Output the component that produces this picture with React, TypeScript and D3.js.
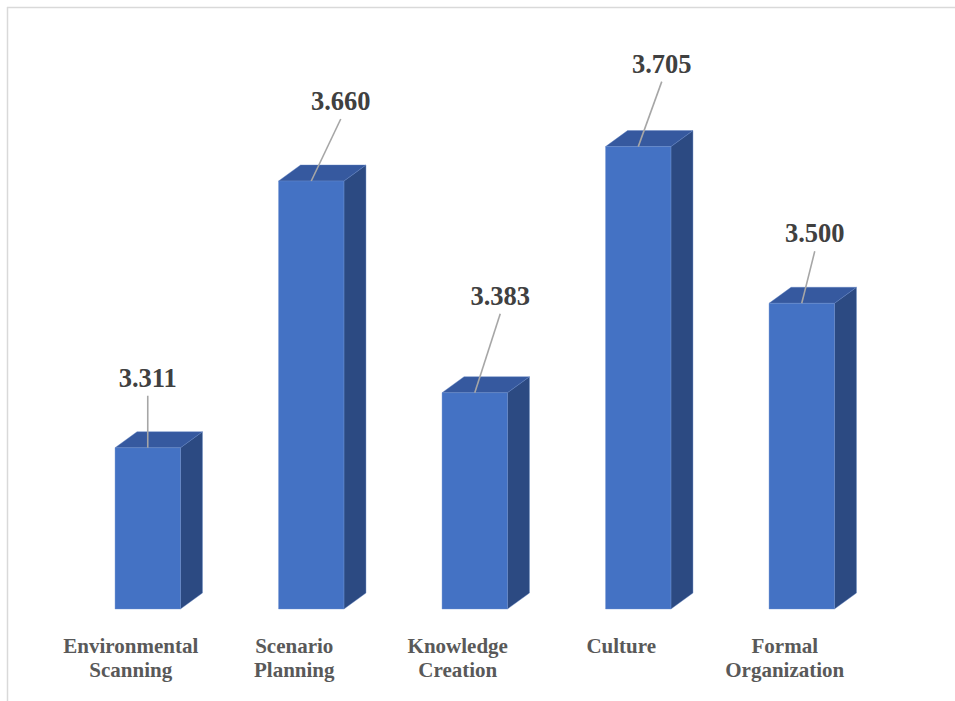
import React from "react";
import * as d3 from "d3";

const categories: string[] = ["Environmental Scanning", "Scenario Planning", "Knowledge Creation", "Culture", "Formal Organization"];
const categoryLines: string[][] = [
  ["Environmental", "Scanning"],
  ["Scenario", "Planning"],
  ["Knowledge", "Creation"],
  ["Culture"],
  ["Formal", "Organization"],
];
const values: number[] = [3.311, 3.66, 3.383, 3.705, 3.5];
const valueLabels: string[] = ["3.311", "3.660", "3.383", "3.705", "3.500"];
// manual data-label placement offsets (px) relative to bar top centre
const labelDx: number[] = [0, 29.5, 25.5, 23.5, 13];
const labelDy: number[] = [-61, -71, -88, -74, -61];

const W = 955;
const H = 701;
const FONT = "'Liberation Serif', 'Times New Roman', serif";
const DEPTH_X = 22;
const DEPTH_Y = 16;

export default function App() {
  const x = d3.scaleBand<string>().domain(categories).range([66, 883.5]).paddingInner(0.6).paddingOuter(0.3);
  const y = d3.scaleLinear().domain([3.1, 3.8]).range([609, 74]);
  const bw = x.bandwidth();
  const base = y(3.1);

  return (
    <svg width={W} height={H} style={{ position: "absolute", left: 0, top: 0, display: "block" }}>
      <rect x={0} y={0} width={W} height={H} fill="#ffffff" />
      <line x1={7} y1={7.5} x2={W} y2={7.5} stroke="#d9d9d9" strokeWidth={1.5} />
      <line x1={7.5} y1={7} x2={7.5} y2={H} stroke="#d9d9d9" strokeWidth={1.5} />
      {categories.map((c, i) => {
        const x0 = x(c)!;
        const x1 = x0 + bw;
        const top = y(values[i]);
        const front = `M${x0},${top}L${x1},${top}L${x1},${base}L${x0},${base}Z`;
        const topFace = `M${x0},${top}L${x0 + DEPTH_X},${top - DEPTH_Y}L${x1 + DEPTH_X},${top - DEPTH_Y}L${x1},${top}Z`;
        const side = `M${x1},${top}L${x1 + DEPTH_X},${top - DEPTH_Y}L${x1 + DEPTH_X},${base - DEPTH_Y}L${x1},${base}Z`;
        const cx = x0 + bw / 2;
        const lx = cx + labelDx[i];
        const ly = top + labelDy[i];
        return (
          <g key={c}>
            <path d={side} fill="#2c4a82" stroke="#5b7fc0" strokeWidth={0.4} />
            <path d={topFace} fill="#36599f" stroke="#5b7fc0" strokeWidth={0.4} />
            <path d={front} fill="#4472c4" stroke="#6d8fd0" strokeWidth={0.4} />
            <line x1={lx} y1={ly + 9} x2={cx} y2={top} stroke="#a6a6a6" strokeWidth={1.6} />
            <text x={lx} y={ly} textAnchor="middle" fontFamily={FONT} fontWeight="bold" fontSize={26.5} fill="#404040">
              {valueLabels[i]}
            </text>
            <text textAnchor="middle" fontFamily={FONT} fontWeight="bold" fontSize={21} fill="#595959">
              {categoryLines[i].map((t, j) => (
                <tspan key={j} x={cx - 17} y={653 + j * 24}>
                  {t}
                </tspan>
              ))}
            </text>
          </g>
        );
      })}
    </svg>
  );
}
